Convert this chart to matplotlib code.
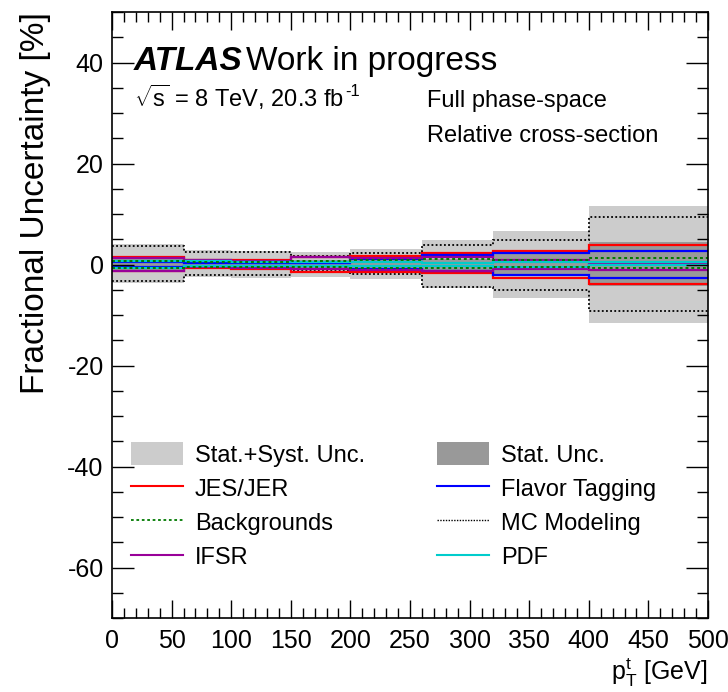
import matplotlib
matplotlib.use("Agg")
import matplotlib.pyplot as plt
from matplotlib.patches import Patch
from matplotlib.lines import Line2D
from matplotlib.ticker import MultipleLocator
from matplotlib.transforms import offset_copy
import numpy as np

plt.rcParams["font.family"] = ["Liberation Sans", "DejaVu Sans"]
plt.rcParams["mathtext.fontset"] = "custom"
plt.rcParams["mathtext.rm"] = "Liberation Sans"
plt.rcParams["mathtext.it"] = "Liberation Sans:italic"
plt.rcParams["axes.unicode_minus"] = False

# Top-quark pT binning [GeV]
bin_edges = [0, 60, 100, 150, 200, 260, 320, 400, 500]

# Fractional uncertainties [%] per bin (up / down variations)
total_up = [4.0, 2.8, 2.7, 2.4, 3.1, 4.8, 6.6, 11.5]
total_down = [-3.6, -2.5, -2.6, -2.4, -2.9, -4.6, -6.6, -11.5]
stat_up = [1.0, 0.8, 0.8, 0.8, 0.9, 1.1, 2.2, 4.4]
stat_down = [-1.0, -0.8, -0.8, -0.8, -0.9, -1.1, -2.2, -4.3]
jes_up = [1.4, 0.9, 0.8, 1.5, 1.6, 2.2, 2.7, 3.9]
jes_down = [-1.2, -0.6, -0.8, -1.4, -1.4, -1.7, -2.7, -3.85]
btag_up = [0.5, 0.2, 0.3, 0.2, 1.0, 1.8, 2.3, 2.7]
btag_down = [-0.5, -0.2, -0.2, -0.2, -0.8, -1.2, -2.0, -2.7]
bkg_up = [0.6, 0.4, 0.4, 0.6, 0.9, 1.0, 0.9, 1.3]
bkg_down = [-0.6, -0.4, -0.4, -0.5, -0.7, -0.7, -0.55, -0.7]
mc_up = [3.7, 2.4, 2.4, 1.6, 2.3, 3.8, 4.9, 9.4]
mc_down = [-3.2, -2.1, -2.1, -1.3, -1.9, -4.4, -5.0, -9.2]
ifsr_up = [1.3, 0.8, 0.7, 1.4, 1.3, 1.5, 0.8, 0.1]
ifsr_down = [-1.3, -0.5, -0.6, -0.9, -1.0, -1.3, -0.8, -1.1]
pdf_up = [0.6, 0.6, 0.5, 0.4, 0.5, 0.3, 0.5, 0.5]
pdf_down = [-0.7, -0.3, -0.3, -0.3, -0.35, -0.2, -0.5, 0.0]

c_total = "#cccccc"
c_stat = "#999999"
c_jes = "#ff0000"
c_btag = "#0000ff"
c_bkg = "#007a00"
c_mc = "#000000"
c_ifsr = "#990099"
c_pdf = "#00cccc"

fig = plt.figure(figsize=(7.28, 6.92), dpi=100)
ax = fig.add_axes([112 / 728, 1 - 618 / 692, 596 / 728, 606 / 692])

ax.stairs(total_up, bin_edges, baseline=total_down, fill=True, color=c_total, lw=0)
ax.stairs(stat_up, bin_edges, baseline=stat_down, fill=True, color=c_stat, lw=0)

lw = 1.6
for vals in (mc_up, mc_down):
    ax.stairs(vals, bin_edges, baseline=None, color=c_mc, lw=1.3, ls=(0, (1, 1.3)))
for vals in (jes_up, jes_down):
    ax.stairs(vals, bin_edges, baseline=None, color=c_jes, lw=lw)
for vals in (btag_up, btag_down):
    ax.stairs(vals, bin_edges, baseline=None, color=c_btag, lw=lw)
for vals in (ifsr_up, ifsr_down):
    ax.stairs(vals, bin_edges, baseline=None, color=c_ifsr, lw=lw)
for vals in (pdf_up, pdf_down):
    ax.stairs(vals, bin_edges, baseline=None, color=c_pdf, lw=lw)
for vals in (bkg_up, bkg_down):
    ax.stairs(vals, bin_edges, baseline=None, color=c_bkg, lw=1.4, ls=(0, (1.5, 1.5)))

ax.set_xlim(0, 500)
ax.set_ylim(-70, 50)

ax.xaxis.set_major_locator(MultipleLocator(50))
ax.xaxis.set_minor_locator(MultipleLocator(10))
ax.yaxis.set_major_locator(MultipleLocator(20))
ax.yaxis.set_minor_locator(MultipleLocator(5))
ax.tick_params(which="both", direction="in", top=True, right=True, labelsize=18, width=1.0)
ax.tick_params(axis="x", which="major", length=13, pad=8)
ax.tick_params(axis="x", which="minor", length=7)
ax.tick_params(axis="y", which="major", length=16, pad=6)
ax.tick_params(axis="y", which="minor", length=8)
for sp in ax.spines.values():
    sp.set_linewidth(1.2)

ax.set_ylabel("Fractional Uncertainty [%]", fontsize=24, loc="top", labelpad=12)
ax.set_xlabel(r"$\mathregular{p_{T}^{t}}$ [GeV]", fontsize=18, loc="right", labelpad=2)

ax.text(0.037, 0.904, "ATLAS", transform=ax.transAxes, fontsize=24,
        fontweight="bold", fontstyle="italic", va="baseline", ha="left")
ax.text(0.225, 0.904, "Work in progress", transform=ax.transAxes, fontsize=24,
        va="baseline", ha="left")
lumi = ax.text(0.037, 0.843, r"$\sqrt{\mathregular{s}}$ = 8 TeV, 20.3 fb",
               transform=ax.transAxes, fontsize=17, va="baseline", ha="left")
fig.canvas.draw()
bb = lumi.get_window_extent()
x_end, _ = ax.transAxes.inverted().transform((bb.x1, bb.y0))
ax.text(x_end, 0.843, "-1",
        transform=offset_copy(ax.transAxes, fig=fig, x=1, y=8, units="points"),
        fontsize=12, va="baseline", ha="left")
ax.text(0.528, 0.843, "Full phase-space", transform=ax.transAxes, fontsize=17,
        va="baseline", ha="left")
ax.text(0.528, 0.785, "Relative cross-section", transform=ax.transAxes, fontsize=17,
        va="baseline", ha="left")

handles = [
    Patch(facecolor=c_total, edgecolor="none"),
    Line2D([], [], color=c_jes, lw=1.5),
    Line2D([], [], color=c_bkg, lw=1.3, ls=(0, (1.5, 1.5))),
    Line2D([], [], color=c_ifsr, lw=1.5),
    Patch(facecolor=c_stat, edgecolor="none"),
    Line2D([], [], color=c_btag, lw=1.5),
    Line2D([], [], color=c_mc, lw=1.0, ls=(0, (1, 1))),
    Line2D([], [], color=c_pdf, lw=1.5),
]
labels = ["Stat.+Syst. Unc.", "JES/JER", "Backgrounds", "IFSR",
          "Stat. Unc.", "Flavor Tagging", "MC Modeling", "PDF"]
ax.legend(handles, labels, ncol=2, loc="upper left", bbox_to_anchor=(0.032, 0.29),
          frameon=False, fontsize=17, handlelength=2.2, handleheight=1.1,
          handletextpad=0.5, columnspacing=3.05, labelspacing=0.42,
          borderpad=0, borderaxespad=0)

fig.savefig("out.png", dpi=100)
